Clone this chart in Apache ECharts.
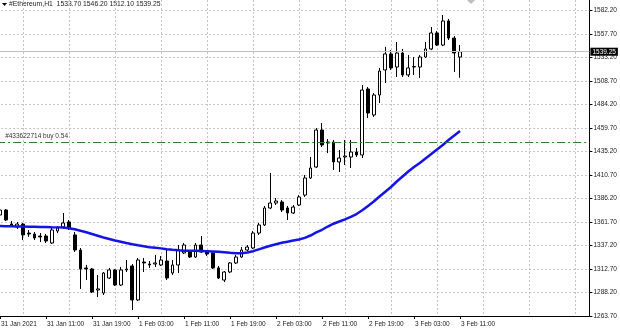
<!DOCTYPE html>
<html><head><meta charset="utf-8">
<script src="https://cdn.jsdelivr.net/npm/echarts@6/dist/echarts.min.js"></script>
<style>html,body{margin:0;padding:0;background:#fff}#c{width:620px;height:330px}</style>
</head><body><div id="c"></div><script>
// Hourly bars from 31 Jan 2021 03:00 to 3 Feb 2021 11:00 (index 0..80), labels every 8 bars
const tickLabels = ["31 Jan 2021","31 Jan 11:00","31 Jan 19:00","1 Feb 03:00","1 Feb 11:00","1 Feb 19:00","2 Feb 03:00","2 Feb 11:00","2 Feb 19:00","3 Feb 03:00","3 Feb 11:00"];
const futureBars = 22;
const opens = [1369.0,1374.2,1359.6,1356.5,1359.6,1350.2,1349.2,1347.1,1347.1,1339.8,
1352.3,1356.5,1361.7,1348.2,1332.5,1313.8,1312.7,1290.8,1287.7,1303.3,
1311.7,1296.0,1311.7,1315.8,1280.4,1320.0,1317.9,1317.9,1316.9,1321.0,
1308.5,1316.9,1329.4,1330.4,1325.2,1337.7,1330.4,1329.4,1313.8,1301.2,
1309.6,1319.0,1325.2,1332.5,1334.6,1350.2,1358.6,1376.3,1381.5,1382.6,
1376.3,1371.1,1379.4,1389.8,1407.6,1419.0,1457.6,1444.1,1445.1,1424.3,
1429.5,1429.5,1434.7,1431.6,1500.4,1473.3,1494.1,1520.2,1536.9,1523.3,
1537.9,1515.0,1523.3,1523.3,1533.7,1542.1,1558.8,1546.2,1571.3,1553.5,
1533.70];
const closes = [1374.2,1363.8,1358.6,1359.6,1348.2,1349.2,1345.0,1346.1,1341.9,1353.4,
1355.4,1360.7,1355.4,1332.5,1312.7,1312.7,1288.7,1291.9,1308.5,1311.7,
1296.0,1311.7,1312.7,1280.4,1322.1,1319.0,1316.9,1319.0,1322.1,1303.3,
1316.9,1332.5,1337.7,1325.2,1337.7,1330.4,1328.3,1313.8,1303.3,1309.6,
1319.0,1325.2,1332.5,1335.6,1350.2,1358.6,1376.3,1381.5,1383.6,1374.2,
1371.1,1377.3,1387.8,1407.6,1418.0,1457.6,1442.0,1445.1,1424.3,1428.4,
1430.5,1434.7,1431.6,1499.3,1475.3,1494.1,1519.1,1536.9,1522.3,1537.9,
1515.0,1522.3,1523.8,1533.7,1542.1,1558.8,1546.2,1571.3,1553.5,1537.9,
1539.25];
const lows = [1367.9,1362.7,1356.5,1354.4,1342.9,1346.1,1342.9,1340.8,1339.8,1338.8,
1350.2,1354.4,1353.4,1330.4,1291.9,1301.2,1287.7,1283.5,1285.6,1302.3,
1295.0,1295.0,1309.6,1270.0,1279.3,1309.6,1313.8,1314.8,1315.8,1301.2,
1306.5,1308.5,1328.3,1324.2,1324.2,1329.4,1326.3,1312.7,1302.3,1299.1,
1308.5,1317.9,1324.2,1331.5,1333.5,1348.2,1357.5,1375.2,1379.4,1372.1,
1363.8,1370.0,1378.4,1387.8,1406.5,1418.0,1439.9,1433.6,1415.9,1413.8,
1421.1,1418.0,1429.5,1428.4,1470.1,1471.2,1485.8,1506.6,1520.2,1512.9,
1512.9,1512.9,1515.0,1511.9,1532.7,1541.0,1545.2,1545.2,1551.4,1518.1,
1512.10];
const highs = [1375.2,1375.2,1362.7,1361.7,1360.7,1353.4,1351.3,1350.2,1349.2,1355.4,
1357.5,1371.1,1363.8,1351.3,1334.6,1316.9,1313.8,1306.5,1309.6,1313.8,
1312.7,1314.8,1322.1,1317.9,1324.2,1324.2,1321.0,1327.3,1326.3,1332.5,
1322.1,1337.7,1339.8,1332.5,1339.8,1347.1,1332.5,1331.5,1315.8,1310.6,
1320.0,1327.3,1335.6,1337.7,1352.3,1360.7,1378.4,1412.8,1386.7,1384.6,
1378.4,1379.4,1389.8,1410.7,1429.5,1459.7,1464.9,1448.2,1447.2,1436.8,
1447.2,1447.2,1438.9,1504.5,1502.4,1496.2,1522.3,1544.2,1541.0,1549.4,
1542.1,1535.8,1533.7,1535.8,1549.4,1565.0,1560.8,1577.5,1573.4,1555.6,
1546.20];
const maValues = [1357.5,1357.4,1357.2,1357.0,1356.9,1356.8,1356.7,1356.5,1356.4,1356.2,
1356.1,1355.9,1355.2,1354.1,1352.5,1351.0,1349.2,1347.4,1345.6,1344.0,
1342.4,1341.1,1339.8,1338.6,1337.4,1336.4,1335.4,1334.8,1334.2,1333.3,
1332.7,1332.2,1331.8,1331.7,1331.6,1331.5,1331.2,1330.9,1330.6,1330.1,
1329.6,1329.2,1329.2,1329.9,1331.3,1333.2,1335.1,1336.9,1338.5,1340.0,
1341.2,1342.4,1343.5,1345.2,1347.6,1350.8,1353.6,1357.0,1359.9,1362.2,
1364.5,1367.1,1370.0,1373.9,1378.5,1383.1,1388.3,1393.2,1398.2,1403.9,
1409.1,1414.3,1419.0,1423.2,1427.9,1432.6,1437.3,1442.0,1447.2,1451.9,
1456.6];
const bidPrice = 1539.25;
const orderPrice = 1445.1;
const orderLabel = "#433622714 buy 0.54";
const header = "#Ethereum,H1  1533.70 1546.20 1512.10 1539.25";
const yMin = 1263.7, yMax = 1593.16, yStep = 24.5;

const nBars = opens.length;
const cats = [];
for (let i = 0; i < nBars + futureBars; i++) {
  cats.push(i % 8 === 0 && i / 8 < tickLabels.length ? tickLabels[i / 8] : "b" + i);
}
const candles = opens.map((o, i) => [o, closes[i], lows[i], highs[i]]);

const FONT = "Liberation Sans";
const isLabelIdx = (i) => i % 8 === 0 && i / 8 < tickLabels.length;
const chart = echarts.init(document.getElementById('c'), null, {renderer: 'canvas'});
chart.setOption({
  animation: false,
  backgroundColor: '#fff',
  grid: {left: -2.875, right: 30.6, top: 0, bottom: 14, containLabel: false, outerBoundsMode: 'none'},
  xAxis: {
    type: 'category', data: cats, boundaryGap: true,
    axisLine: {show: true, lineStyle: {color: '#000', width: 1}},
    axisTick: {show: true, alignWithLabel: true, length: 3, interval: (i) => isLabelIdx(i), lineStyle: {color: '#000'}},
    axisLabel: {show: true, interval: (i) => isLabelIdx(i), align: 'left', margin: 5, padding: [0,0,0,1],
      fontFamily: FONT, fontSize: 6.5, color: '#1a1a1a', formatter: (v) => v},
    splitLine: {show: true, alignWithLabel: true, interval: (i) => i % 8 === 4,
      lineStyle: {color: '#c4c4c4', type: [2, 2], width: 1}}
  },
  yAxis: {
    type: 'value', position: 'right', min: yMin, max: yMax, interval: yStep, scale: true,
    axisLine: {show: true, onZero: false, lineStyle: {color: '#000', width: 1}},
    axisTick: {show: true, length: 3, lineStyle: {color: '#000'}},
    axisLabel: {show: true, margin: 4, showMaxLabel: false, fontFamily: FONT, fontSize: 6.5, color: '#1a1a1a',
      formatter: (v) => v.toFixed(2)},
    splitLine: {show: true, showMaxLine: false, showMinLine: false, lineStyle: {color: '#c4c4c4', type: [2, 2], width: 1}}
  },
  series: [
    {
      type: 'candlestick', data: candles, barWidth: 3.2,
      itemStyle: {color: '#fff', color0: '#000', borderColor: '#000', borderColor0: '#000', borderWidth: 1},
      emphasis: {disabled: true},
      markLine: {
        silent: true, symbol: ['none', 'none'], animation: false,
        data: [
          {yAxis: bidPrice, lineStyle: {color: '#c0c0c0', type: 'solid', width: 1},
           label: {show: true, position: 'end', distance: 1, formatter: bidPrice.toFixed(2), color: '#fff',
                   backgroundColor: '#000', padding: [1, 2, 0, 2], fontFamily: FONT, fontSize: 6.5}},
          {yAxis: orderPrice, lineStyle: {color: '#2a7d2a', type: [8, 3, 2, 3], width: 1},
           label: {show: true, position: 'insideStartTop', distance: [8, 2], formatter: orderLabel, color: '#333',
                   fontFamily: FONT, fontSize: 6.5}}
        ]
      }
    },
    {
      type: 'line', data: maValues, showSymbol: false, smooth: false, clip: false,
      lineStyle: {color: '#1414e6', width: 2.5}, z: 3, emphasis: {disabled: true}
    }
  ],
  graphic: [
    {type: 'polygon', shape: {points: [[2, 3], [7, 3], [4.5, 6]]}, style: {fill: '#000'}},
    {type: 'text', left: 9, top: 1, style: {text: header, fontFamily: FONT, fontSize: 6.8, fill: '#1a1a1a'}},
    {type: 'polygon', shape: {points: [[467, 0], [475, 0], [471, 4]]}, style: {fill: '#bdbdbd'}}
  ]
});
</script></body></html>
